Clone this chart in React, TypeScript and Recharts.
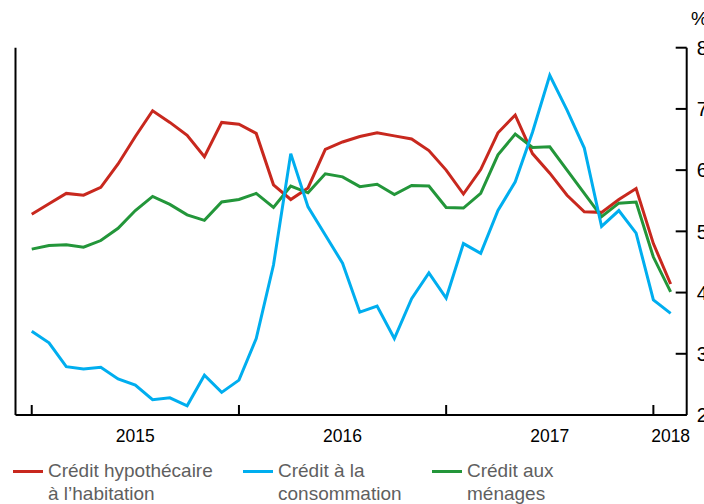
import React from 'react';
import { LineChart, Line, XAxis, YAxis } from 'recharts';

const months = [
  '2015-01','2015-02','2015-03','2015-04','2015-05','2015-06','2015-07','2015-08','2015-09','2015-10','2015-11','2015-12',
  '2016-01','2016-02','2016-03','2016-04','2016-05','2016-06','2016-07','2016-08','2016-09','2016-10','2016-11','2016-12',
  '2017-01','2017-02','2017-03','2017-04','2017-05','2017-06','2017-07','2017-08','2017-09','2017-10','2017-11','2017-12',
  '2018-01','2018-02',
];

const creditHypothecaire = [
  5.28, 5.45, 5.62, 5.59, 5.72, 6.10, 6.55, 6.97, 6.78, 6.57, 6.22, 6.78,
  6.75, 6.60, 5.76, 5.52, 5.71, 6.34, 6.46, 6.55, 6.61, 6.56, 6.51, 6.32,
  6.00, 5.61, 6.01, 6.61, 6.90, 6.27, 5.95, 5.59, 5.32, 5.31, 5.52, 5.70,
  4.80, 4.14,
];

const creditConsommation = [
  3.37, 3.18, 2.79, 2.75, 2.78, 2.59, 2.49, 2.25, 2.28, 2.15, 2.65, 2.37,
  2.57, 3.25, 4.45, 6.27, 5.40, 4.94, 4.48, 3.68, 3.78, 3.25, 3.90, 4.32,
  3.91, 4.80, 4.64, 5.34, 5.81, 6.62, 7.55, 6.98, 6.36, 5.08, 5.34, 4.97,
  3.88, 3.66,
];

const creditMenages = [
  4.71, 4.77, 4.78, 4.74, 4.85, 5.05, 5.34, 5.57, 5.44, 5.27, 5.18, 5.48,
  5.52, 5.62, 5.39, 5.74, 5.63, 5.94, 5.89, 5.73, 5.77, 5.60, 5.75, 5.74,
  5.39, 5.38, 5.62, 6.25, 6.59, 6.37, 6.38, 6.00, 5.62, 5.24, 5.46, 5.48,
  4.58, 4.01,
];

const yearLabels = ['2015', '2016', '2017', '2018'];
const yearLabelPositions = [6, 18, 30, 37];
const yearBoundaryTicks = [0, 12, 24, 36];
const yTicks = [2, 3, 4, 5, 6, 7, 8];

const seriesNames = [
  'Crédit hypothécaire\nà l’habitation',
  'Crédit à la\nconsommation',
  'Crédit aux\nménages',
];
const colors = ['#C8281E', '#00AEEF', '#23963A'];

const data = months.map((m, i) => ({
  idx: i,
  month: m,
  hypo: creditHypothecaire[i],
  conso: creditConsommation[i],
  menages: creditMenages[i],
}));

const FONT = '"Liberation Sans", Arial, Helvetica, sans-serif';

const XTick = (props: any) => {
  const { x, y, payload } = props;
  const v = payload.value;
  if (yearBoundaryTicks.includes(v)) {
    return <line x1={x} x2={x} y1={y} y2={y - 10} stroke="#000" strokeWidth={2} />;
  }
  const i = yearLabelPositions.indexOf(v);
  return (
    <text x={x} y={y + 26.5} textAnchor="middle" fontSize={17.5} fill="#000" fontFamily={FONT}>
      {yearLabels[i]}
    </text>
  );
};

const RightTick = (props: any) => {
  const { x, y, payload } = props;
  return (
    <g>
      <line x1={x - 11} x2={x} y1={y} y2={y} stroke="#000" strokeWidth={2} />
      <text x={x + 10} y={y} dy="0.36em" textAnchor="start" fontSize={20} fill="#000" fontFamily={FONT}>
        {payload.value}
      </text>
    </g>
  );
};

const LeftTick = (props: any) => {
  const { x, y } = props;
  return <line x1={x} x2={x + 12} y1={y} y2={y} stroke="#000" strokeWidth={2} />;
};

const legendPos = [
  { swatch: 13, text: 48 },
  { swatch: 243, text: 278 },
  { swatch: 432, text: 467 },
];

export default function App() {
  return (
    <div style={{ position: 'absolute', left: 0, top: 0, width: 704, height: 504, background: '#fff', overflow: 'hidden' }}>
      <LineChart
        width={704}
        height={504}
        data={data}
        margin={{ top: 47.7, right: 16.3, bottom: 88, left: 14.5 }}
      >
        <XAxis
          dataKey="idx"
          type="number"
          domain={[-0.94, 37.93]}
          ticks={[...yearBoundaryTicks, ...yearLabelPositions].sort((a, b) => a - b)}
          interval={0}
          height={1}
          tickSize={0}
          tickMargin={0}
          tickLine={false}
          axisLine={{ stroke: '#000', strokeWidth: 2 }}
          tick={<XTick />}
          allowDataOverflow
        />
        <YAxis
          yAxisId="left"
          orientation="left"
          domain={[2, 8]}
          ticks={yTicks}
          interval={0}
          width={1}
          tickSize={0}
          tickMargin={0}
          tickLine={false}
          axisLine={{ stroke: '#000', strokeWidth: 2 }}
          tick={<LeftTick />}
        />
        <YAxis
          yAxisId="right"
          orientation="right"
          domain={[2, 8]}
          ticks={yTicks}
          interval={0}
          width={1}
          tickSize={0}
          tickMargin={0}
          tickLine={false}
          axisLine={{ stroke: '#000', strokeWidth: 2 }}
          tick={<RightTick />}
        />
        <Line yAxisId="right" type="linear" dataKey="hypo" stroke={colors[0]} strokeWidth={3} dot={false} isAnimationActive={false} />
        <Line yAxisId="right" type="linear" dataKey="menages" stroke={colors[2]} strokeWidth={3} dot={false} isAnimationActive={false} />
        <Line yAxisId="right" type="linear" dataKey="conso" stroke={colors[1]} strokeWidth={3} dot={false} isAnimationActive={false} />
      </LineChart>
      <div style={{ position: 'absolute', left: 691, top: 9, fontFamily: FONT, fontSize: 19, color: '#000', lineHeight: '20px' }}>%</div>
      {seriesNames.map((name, i) => (
        <React.Fragment key={i}>
          <div
            style={{
              position: 'absolute',
              left: legendPos[i].swatch,
              top: 469.5,
              width: 30,
              height: 3,
              background: colors[i],
            }}
          />
          <div
            style={{
              position: 'absolute',
              left: legendPos[i].text,
              top: 459,
              fontFamily: FONT,
              fontSize: 19,
              lineHeight: '23px',
              color: '#5f5f5f',
              whiteSpace: 'pre',
            }}
          >
            {name}
          </div>
        </React.Fragment>
      ))}
    </div>
  );
}
